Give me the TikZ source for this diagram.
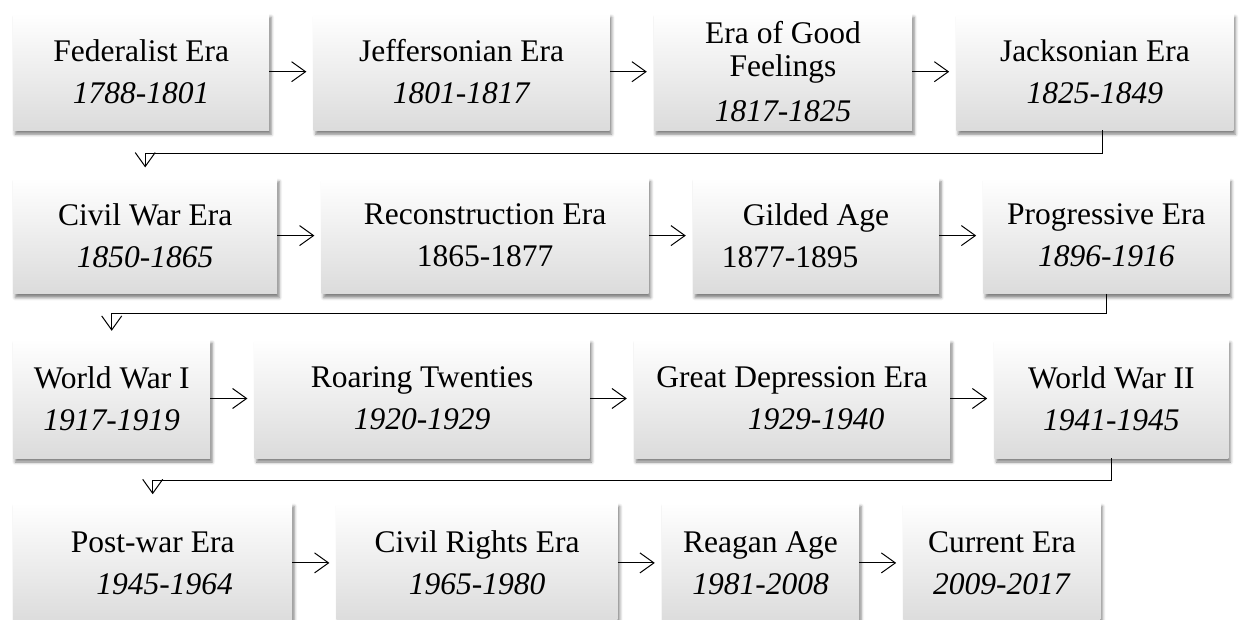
\documentclass[tikz,border=0pt]{standalone}
\usepackage{fontspec}
\setmainfont{Liberation Serif}
\usetikzlibrary{positioning,arrows.meta,shadows.blur}

\begin{document}
\begin{tikzpicture}[
                node distance=44pt,
                era/.style={shade,top color=white,middle color=white,bottom color=black!14,
                    blur shadow={shadow xshift=2pt,shadow yshift=-4pt,shadow blur radius=3pt,shadow opacity=50},
                    align=center,inner sep=0pt,font=\fontsize{31.5}{42}\selectfont},
                link/.style={line width=1.1pt,-{Straight Barb[length=14pt,width=20pt,line width=1pt]},shorten >=7pt}
            ]
                \useasboundingbox (0,0) rectangle (1243pt,-620pt);
                % first row
                \node (fed)  [era,minimum width=256pt,minimum height=117pt,anchor=north west] at (13pt,-13pt) {Federalist Era\\\textit{1788-1801}};
                \node (jef)  [era,minimum width=296pt,minimum height=117pt,right=of fed]  {Jeffersonian Era\\\textit{1801-1817}};
                \node (egf)  [era,minimum width=258pt,minimum height=117pt,right=of jef]  {Era of Good\\[-9pt]Feelings\\[3pt]\textit{1817-1825}};
                \node (jac)  [era,minimum width=277pt,minimum height=117pt,right=of egf]  {Jacksonian Era\\\textit{1825-1849}};
                % second row
                \node (cw)   [era,minimum width=264pt,minimum height=116pt,below=47pt of fed.south west,anchor=north west] {Civil War Era\\\textit{1850-1865}};
                \node (rec)  [era,minimum width=327pt,minimum height=116pt,right=of cw]   {Reconstruction Era\\1865-1877};
                \node (gild) [era,minimum width=246pt,minimum height=116pt,right=of rec]  {Gilded Age\\\hspace*{-52pt}1877-1895};
                \node (prog) [era,minimum width=246pt,minimum height=116pt,right=of gild] {Progressive Era\\\textit{1896-1916}};
                % third row
                \node (ww1)  [era,minimum width=197pt,minimum height=119pt,below=45pt of cw.south west,anchor=north west] {World War I\\\textit{1917-1919}};
                \node (roar) [era,minimum width=335pt,minimum height=119pt,right=of ww1]  {Roaring Twenties\\\textit{1920-1929}};
                \node (dep)  [era,minimum width=316pt,minimum height=119pt,right=of roar] {Great Depression Era\\\hspace*{48pt}\textit{1929-1940}};
                \node (ww2)  [era,minimum width=234pt,minimum height=119pt,right=of dep]  {World War II\\\textit{1941-1945}};
                % fourth row
                \node (post) [era,minimum width=279pt,minimum height=121pt,below=44pt of ww1.south west,anchor=north west] {Post-war Era\\\hspace*{24pt}\textit{1945-1964}};
                \node (civ)  [era,minimum width=281pt,minimum height=121pt,right=of post] {Civil Rights Era\\\textit{1965-1980}};
                \node (reag) [era,minimum width=197pt,minimum height=121pt,right=of civ]  {Reagan Age\\\textit{1981-2008}};
                \node (cur)  [era,minimum width=197pt,minimum height=121pt,right=of reag] {Current Era\\\textit{2009-2017}};
                % arrows
                \draw[link] (fed) -- (jef);
                \draw[link] (jef) -- (egf);
                \draw[link] (egf) -- (jac);
                \draw[link,shorten >=10pt] ([xshift=8pt]jac.south) -- ++(0,-23pt) -| (cw.north);
                \draw[link] (cw) -- (rec);
                \draw[link] (rec) -- (gild);
                \draw[link] (gild) -- (prog);
                \draw[link,shorten >=8pt] (prog.south) -- ++(0,-20pt) -| (ww1.north);
                \draw[link] (ww1) -- (roar);
                \draw[link] (roar) -- (dep);
                \draw[link] (dep) -- (ww2);
                \draw[link,shorten >=8pt] (ww2.south) -- ++(0,-22pt) -| (post.north);
                \draw[link] (post) -- (civ);
                \draw[link] (civ) -- (reag);
                \draw[link] (reag) -- (cur);
            \end{tikzpicture}
\end{document}
